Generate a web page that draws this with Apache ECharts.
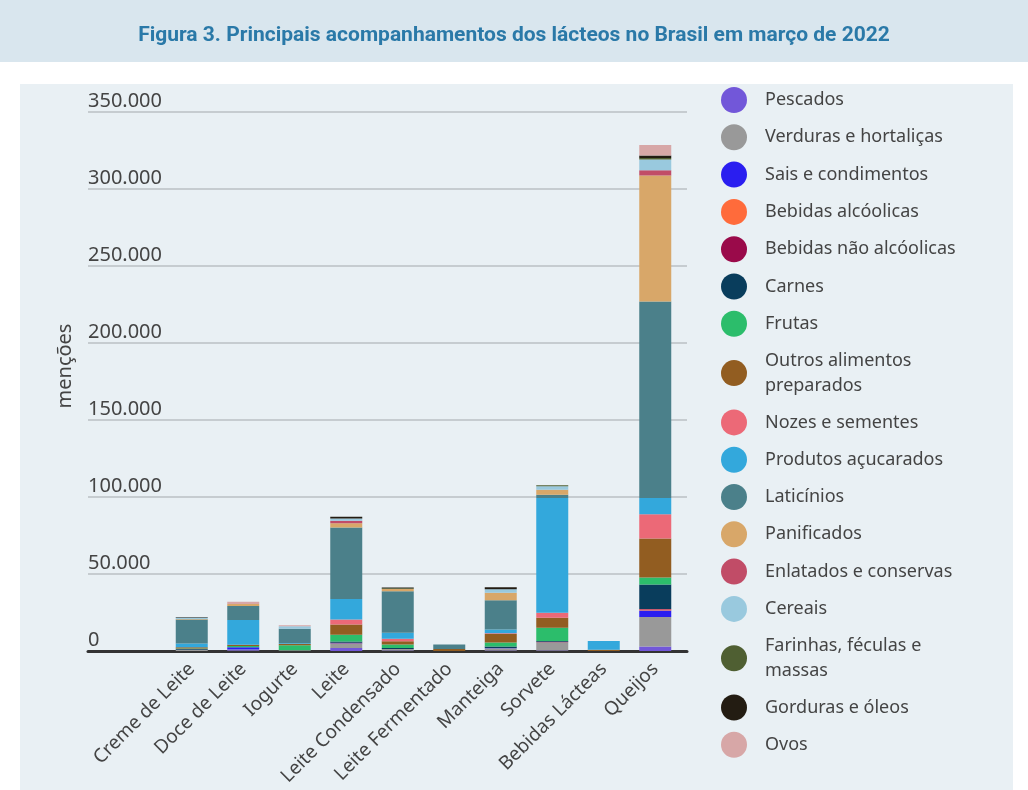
<!DOCTYPE html>
<html>
<head>
<meta charset="utf-8">
<script src="https://cdn.jsdelivr.net/npm/echarts@6/dist/echarts.min.js"></script>
<style>
  html, body { margin: 0; padding: 0; background: #ffffff; }
  #band { position: absolute; left: 0; top: 0; width: 1028px; height: 62px; background: #d9e6ee; }
  #panel { position: absolute; left: 20px; top: 84px; width: 993px; height: 706px; background: #e9f0f4; }
  #chart { position: absolute; left: 0; top: 0; width: 1028px; height: 790px; }
</style>
</head>
<body>
<div id="band"></div>
<div id="panel"></div>
<div id="chart"></div>
<script>
const categories = ['Creme de Leite', 'Doce de Leite', 'Iogurte', 'Leite', 'Leite Condensado', 'Leite Fermentado', 'Manteiga', 'Sorvete', 'Bebidas Lácteas', 'Queijos'];
const yTicks = [0, 50000, 100000, 150000, 200000, 250000, 300000, 350000];

const pescados      = [0, 500, 0, 2000, 300, 0, 300, 300, 0, 3000];
const verduras      = [800, 500, 500, 2800, 1000, 0, 1500, 5400, 0, 19000];
const sais          = [0, 1500, 0, 300, 0, 0, 200, 0, 0, 4300];
const bebidasAlc    = [0, 0, 0, 0, 0, 0, 0, 0, 0, 600];
const bebidasNaoAlc = [0, 0, 0, 200, 0, 0, 0, 300, 0, 300];
const carnes        = [500, 0, 0, 900, 700, 0, 1000, 500, 0, 16000];
const frutas        = [300, 700, 3200, 4300, 2200, 0, 2600, 8600, 0, 4500];
const outros        = [800, 800, 800, 6700, 2200, 1300, 5400, 6500, 800, 25300];
const nozes         = [0, 0, 0, 3200, 1500, 0, 500, 3200, 0, 15800];
const produtos      = [2500, 16200, 500, 13400, 3900, 0, 2400, 74500, 5700, 10600];
const laticinios    = [15500, 9000, 9500, 46400, 27000, 2900, 19000, 2200, 0, 127500];
const panificados   = [300, 1300, 0, 2800, 1500, 0, 5000, 3200, 0, 81800];
const enlatados     = [0, 0, 0, 1500, 0, 0, 0, 0, 0, 3500];
const cereais       = [1000, 0, 1500, 1500, 0, 0, 2200, 2200, 0, 6900];
const farinhas      = [0, 0, 0, 0, 500, 0, 0, 700, 0, 1100];
const gorduras      = [300, 0, 0, 1100, 500, 0, 1300, 0, 0, 1500];
const ovos          = [0, 1500, 700, 0, 0, 0, 0, 0, 0, 6900];

const seriesDefs = [
  ['Pescados', pescados, '#7257d9'],
  ['Verduras e hortaliças', verduras, '#999999'],
  ['Sais e condimentos', sais, '#2a1ef0'],
  ['Bebidas alcóolicas', bebidasAlc, '#ff6b3b'],
  ['Bebidas não alcóolicas', bebidasNaoAlc, '#9a0a4a'],
  ['Carnes', carnes, '#093d5c'],
  ['Frutas', frutas, '#2cbd6b'],
  ['Outros alimentos preparados', outros, '#925d21'],
  ['Nozes e sementes', nozes, '#ec6977'],
  ['Produtos açucarados', produtos, '#33a8dc'],
  ['Laticínios', laticinios, '#4b808a'],
  ['Panificados', panificados, '#d8a769'],
  ['Enlatados e conservas', enlatados, '#c14c67'],
  ['Cereais', cereais, '#99c9de'],
  ['Farinhas, féculas e massas', farinhas, '#4f5f32'],
  ['Gorduras e óleos', gorduras, '#231c12'],
  ['Ovos', ovos, '#d7a7a7']
];
const legendLabels = {
  'Outros alimentos preparados': 'Outros alimentos\npreparados',
  'Farinhas, féculas e massas': 'Farinhas, féculas e\nmassas'
};

const fmt = v => String(v).replace(/\B(?=(\d{3})+(?!\d))/g, '.');

const chart = echarts.init(document.getElementById('chart'), null, {renderer: 'canvas'});
chart.setOption({
  backgroundColor: 'transparent',
  animation: false,
  textStyle: { fontFamily: 'Noto Sans' },
  title: {
    text: 'Figura 3. Principais acompanhamentos dos lácteos no Brasil em março de 2022',
    left: 'center', top: 20,
    textStyle: { fontFamily: 'Roboto', fontWeight: 'bold', fontSize: 21, color: '#2a79a8' }
  },
  graphic: [{
    type: 'text', x: 65, y: 366, rotation: Math.PI / 2,
    style: { text: 'menções', font: '20px "Noto Sans"', fill: '#444', align: 'center', verticalAlign: 'middle' }
  }],
  legend: {
    orient: 'vertical', left: 716, top: 82,
    icon: 'circle', itemWidth: 26, itemHeight: 26, itemGap: 11.3,
    textStyle: { fontFamily: 'Noto Sans', fontSize: 18, color: '#444', lineHeight: 25, padding: [0, 0, 0, 13] },
    formatter: n => legendLabels[n] || n,
    data: seriesDefs.map(d => d[0])
  },
  grid: [
    { left: 88, right: 341, top: 112, bottom: 139 },
    { left: 166, right: 347, top: 112, bottom: 139 }
  ],
  xAxis: [
    { gridIndex: 0, type: 'value', min: 0, max: 1,
      axisLine: { show: true, lineStyle: { color: '#333', width: 3 } },
      axisTick: { show: false }, axisLabel: { show: false }, splitLine: { show: false } },
    { gridIndex: 1, type: 'category', data: categories,
      axisLine: { show: false }, axisTick: { show: false },
      axisLabel: { rotate: 45, fontSize: 19, color: '#444', margin: 15, interval: 0 } }
  ],
  yAxis: [
    { gridIndex: 0, type: 'value', min: 0, max: 350000, interval: 50000,
      axisLine: { show: false }, axisTick: { show: false },
      axisLabel: { inside: true, margin: 0, align: 'left', verticalAlign: 'bottom', fontSize: 20, color: '#444', formatter: v => fmt(v), padding: [0, 0, 1, 0] },
      splitLine: { show: true, lineStyle: { color: '#c6ccd0', width: 2 } } },
    { gridIndex: 1, type: 'value', min: 0, max: 350000, interval: 50000, show: false,
      splitLine: { show: false } }
  ],
  series: seriesDefs.map(d => ({
    name: d[0], type: 'bar', stack: 'total', xAxisIndex: 1, yAxisIndex: 1,
    barWidth: 32, data: d[1], itemStyle: { color: d[2] }
  }))
});
</script>
</body>
</html>
